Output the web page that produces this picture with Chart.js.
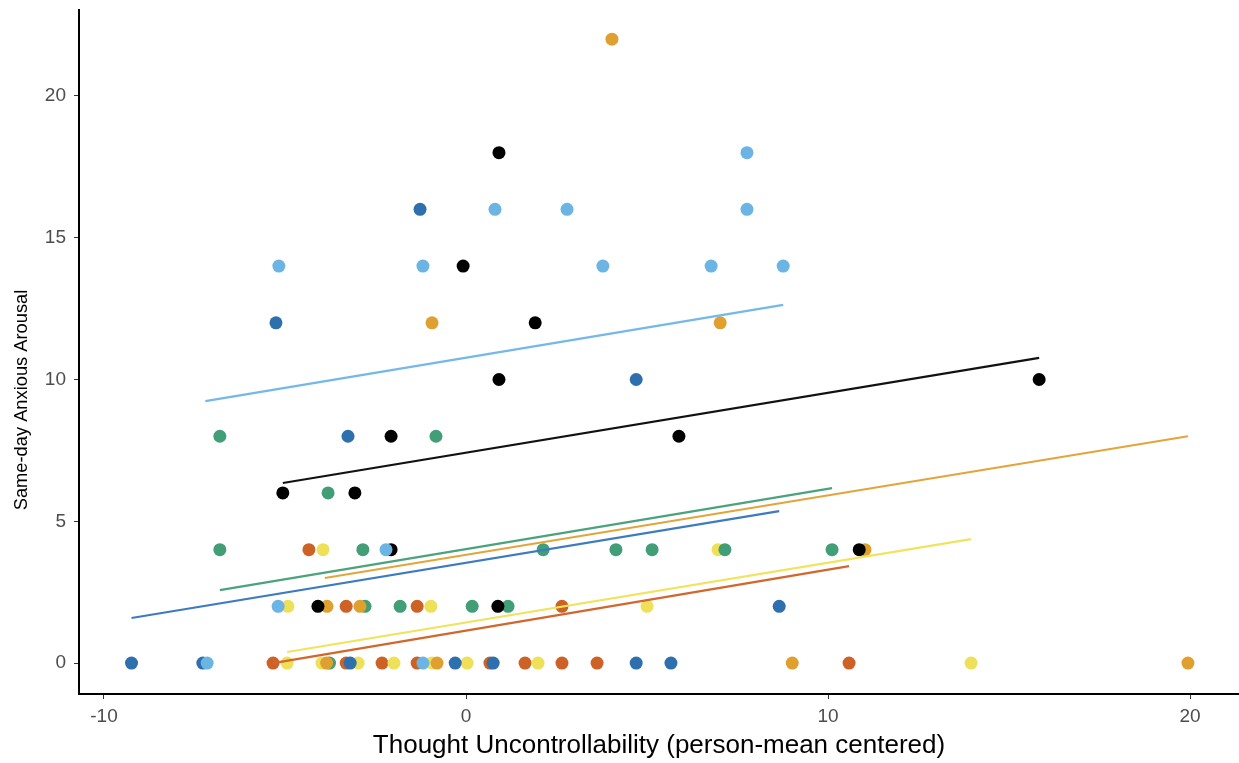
<!DOCTYPE html>
<html>
<head>
<meta charset="utf-8">
<script src="https://cdn.jsdelivr.net/npm/chart.js@4/dist/chart.umd.min.js"></script>
<style>
    html, body { margin: 0; padding: 0; background: #fff; overflow: hidden; }
    #wrap { width: 1239px; height: 763px; position: relative; }
</style>
</head>
<body>
<div id="wrap"><canvas id="scatterChart"></canvas></div>
<script>
// Axis ticks and titles
const xTicks = [-10, 0, 10, 20];
const yTicks = [0, 5, 10, 15, 20];
const xTitle = 'Thought Uncontrollability (person-mean centered)';
const yTitle = 'Same-day Anxious Arousal';

// Points per person (x = uncontrollability, y = arousal)
const lightBlueX = [-7.15, -1.19, -5.19, -2.21, -5.17, -1.19, 3.78, 6.77, 8.76, 0.80, 2.79, 7.76, 7.76];
const lightBlueY = [0, 0, 2, 4, 14, 14, 14, 14, 14, 16, 16, 16, 18];

const blackX = [-4.09, 0.88, -2.07, 10.86, -5.06, -3.07, -2.07, 5.88, 0.91, 15.83, 1.91, -0.08, 0.91];
const blackY = [2, 2, 4, 4, 6, 6, 8, 8, 10, 10, 12, 14, 18];

const orangeX = [-3.85, -0.80, 9.01, 19.94, -3.84, -2.93, 11.02, -0.94, 7.02, 4.03];
const orangeY = [0, 0, 0, 0, 2, 2, 4, 12, 12, 22];

const greenX = [-3.77, -2.79, -1.82, 0.17, 1.16, -6.80, -2.85, 2.13, 4.14, 5.14, 7.15, 10.11, -3.81, -6.80, -0.83];
const greenY = [0, 2, 2, 2, 2, 4, 4, 4, 4, 4, 4, 4, 6, 8, 8];

const blueX = [-9.24, -7.27, -3.20, -0.30, 0.75, 4.70, 5.66, 8.65, -3.26, 4.70, -5.25, -1.27];
const blueY = [0, 0, 0, 0, 0, 0, 0, 2, 8, 10, 12, 16];

const yellowX = [-4.94, -3.98, -2.98, -1.99, -0.94, 0.03, 1.99, 13.95, -4.92, -0.97, 5.0, -3.95, 6.96];
const yellowY = [0, 0, 0, 0, 0, 0, 0, 0, 2, 2, 2, 4, 4];

const vermX = [-5.33, -3.31, -2.32, -1.35, 0.66, 1.63, 2.65, 3.62, 10.58, -3.31, -1.35, 2.65, -4.34];
const vermY = [0, 0, 0, 0, 0, 0, 0, 0, 0, 2, 2, 2, 4];

// Fitted line endpoints per person
const lightBlueFitX = [-7.2, 8.76];  const lightBlueFitY = [9.24, 12.63];
const blackFitX = [-5.06, 15.83];    const blackFitY = [6.35, 10.76];
const orangeFitX = [-3.9, 19.94];    const orangeFitY = [3.0, 8.0];
const greenFitX = [-6.8, 10.11];     const greenFitY = [2.57, 6.17];
const blueFitX = [-9.24, 8.65];      const blueFitY = [1.59, 5.36];
const yellowFitX = [-4.94, 13.95];   const yellowFitY = [0.39, 4.37];
const vermFitX = [-5.33, 10.58];     const vermFitY = [0.0, 3.42];

const zip = (xs, ys) => xs.map((x, i) => ({ x: x, y: ys[i] }));

// Okabe-Ito style palette, as rendered
const groups = [
    { x: lightBlueX, y: lightBlueY, fx: lightBlueFitX, fy: lightBlueFitY, dot: '#6cb4e4', line: '#74b8ea' },
    { x: blackX, y: blackY, fx: blackFitX, fy: blackFitY, dot: '#000000', line: '#111111' },
    { x: orangeX, y: orangeY, fx: orangeFitX, fy: orangeFitY, dot: '#e0a030', line: '#e3a53b' },
    { x: greenX, y: greenY, fx: greenFitX, fy: greenFitY, dot: '#429e77', line: '#4ba37e' },
    { x: blueX, y: blueY, fx: blueFitX, fy: blueFitY, dot: '#2e6fad', line: '#3c7bbf' },
    { x: yellowX, y: yellowY, fx: yellowFitX, fy: yellowFitY, dot: '#eee058', line: '#f0e35e' },
    { x: vermX, y: vermY, fx: vermFitX, fy: vermFitY, dot: '#cc6226', line: '#d1672c' }
];

const datasets = [];
groups.forEach(g => {
    datasets.push({
        type: 'scatter',
        data: zip(g.x, g.y),
        backgroundColor: g.dot,
        borderWidth: 0,
        pointRadius: 6.5,
        order: 2
    });
    datasets.push({
        type: 'line',
        data: zip(g.fx, g.fy),
        borderColor: g.line,
        borderWidth: 2.2,
        pointRadius: 0,
        fill: false,
        order: 1
    });
});

const fam = "'Liberation Sans', Arial, sans-serif";

// y title sits lower than the panel centre in the original, so draw it by hand
const yTitlePlugin = {
    id: 'yTitle',
    afterDraw(chart) {
        const ctx = chart.ctx;
        ctx.save();
        ctx.translate(22, 400);
        ctx.rotate(-Math.PI / 2);
        ctx.font = '18.3px ' + fam;
        ctx.fillStyle = '#000';
        ctx.textAlign = 'center';
        ctx.textBaseline = 'middle';
        ctx.fillText(yTitle, 0, 0);
        ctx.restore();
    }
};

new Chart(document.getElementById('scatterChart'), {
    data: { datasets: datasets },
    plugins: [yTitlePlugin],
    options: {
        responsive: true,
        maintainAspectRatio: false,
        animation: false,
        layout: { autoPadding: false, padding: { top: 10, right: 0, left: 0, bottom: 0 } },
        plugins: { legend: { display: false }, tooltip: { enabled: false } },
        scales: {
            x: {
                type: 'linear',
                min: -10.69,
                max: 21.35,
                afterBuildTicks: s => { s.ticks = xTicks.map(v => ({ value: v })); },
                afterFit: s => { s.height = 69; s.paddingLeft = 0; s.paddingRight = 0; },
                grid: { drawOnChartArea: false, drawTicks: true, tickLength: 5, color: '#333', lineWidth: 1 },
                border: { display: true, color: '#000', width: 2 },
                ticks: { color: '#4d4d4d', font: { family: fam, size: 19 }, padding: 6, maxRotation: 0 },
                title: { display: true, text: xTitle, color: '#000', font: { family: fam, size: 26 }, padding: { top: 0, bottom: 2 } }
            },
            y: {
                type: 'linear',
                min: -1.09,
                max: 23.03,
                afterBuildTicks: s => { s.ticks = yTicks.map(v => ({ value: v })); },
                afterFit: s => { s.width = 79; s.paddingTop = 0; s.paddingBottom = 0; },
                grid: { drawOnChartArea: false, drawTicks: true, tickLength: 5, color: '#333', lineWidth: 1 },
                border: { display: true, color: '#000', width: 2 },
                ticks: { color: '#4d4d4d', font: { family: fam, size: 19 }, padding: 8 },
                title: { display: false }
            }
        }
    }
});
</script>
</body>
</html>
